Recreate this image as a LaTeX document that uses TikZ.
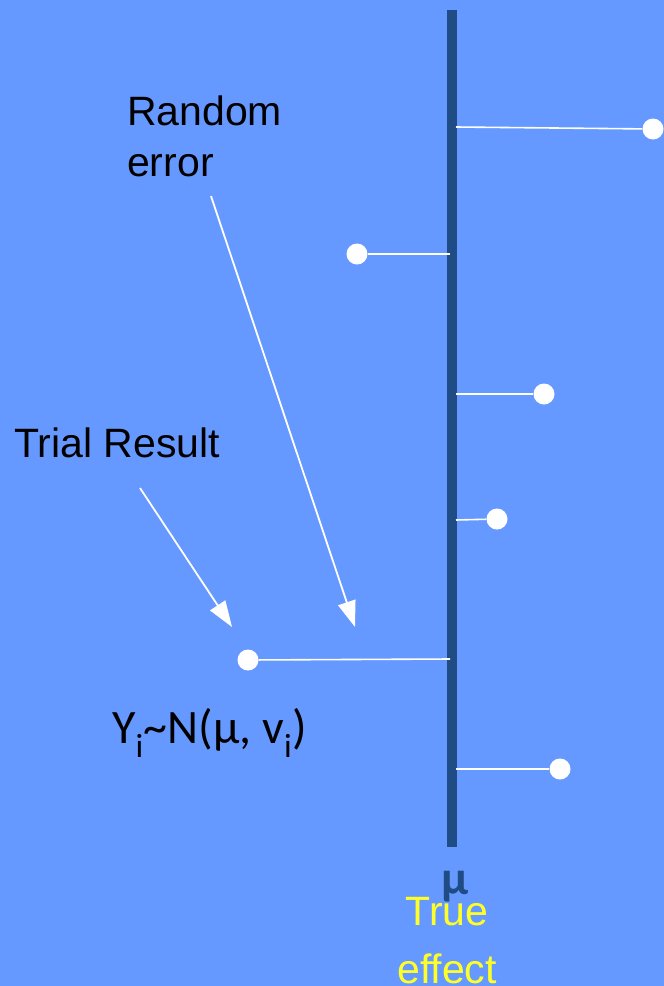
\documentclass[tikz,border=0pt]{standalone}
\usepackage{fontspec}
\setmainfont{Liberation Sans}
\newfontfamily\calib{Carlito}
\usetikzlibrary{arrows.meta}
\definecolor{bgblue}{RGB}{102,153,255}
\definecolor{barblue}{RGB}{31,76,132}
\definecolor{txtyellow}{RGB}{255,255,40}
\tikzset{
  dot/.style={circle,fill=white,draw=none,minimum size=21pt,inner sep=0pt},
  errline/.style={white,line width=1.6pt},
  pointer/.style={white,line width=1.8pt,-{Triangle[width=18pt,length=26pt,fill=white]}},
  lbl/.style={inner sep=0pt,font=\fontsize{41}{51}\selectfont,text=black,align=left}
}
\begin{document}
\begin{tikzpicture}[x=1pt,y=-1pt]
\useasboundingbox[fill=bgblue] (0,0) rectangle (664,986);
% true effect bar
\coordinate (top) at (452,10);
\coordinate (bot) at (452,847);
\draw[barblue,line width=10pt] (top) -- (bot);
% bar anchor points
\coordinate (b1) at (456,127);
\coordinate (b2) at (450,254);
\coordinate (b3) at (456,394);
\coordinate (b4) at (456,520);
\coordinate (b5) at (450,659);
\coordinate (b6) at (456,769);
% trial results
\node[dot] (d1) at (653,129) {};
\node[dot] (d2) at (357,254) {};
\node[dot] (d3) at (544,394) {};
\node[dot] (d4) at (497,519) {};
\node[dot] (d5) at (248,660) {};
\node[dot] (d6) at (560,769) {};
\foreach \i in {1,...,6} \draw[errline] (b\i) -- (d\i);
% labels
\node[lbl,anchor=north west] (re) at (127,96) {Random\\error};
\node[lbl,anchor=north west] (tr) at (14,428) {Trial Result};
\coordinate (reS) at (211,196);
\coordinate (reT) at (355,627);
\coordinate (trS) at (140,488);
\coordinate (trT) at (232,627);
\draw[pointer] (reS) -- (reT);
\draw[pointer] (trS) -- (trT);
% formula
\node[inner sep=0pt,anchor=base west,font=\calib\fontsize{48}{54}\selectfont] (f) at (112,743)
  {Y\textsubscript{i}{\char"7E}N(\textmu, v\textsubscript{i})};
% mu and true effect
\node[inner sep=0pt,anchor=base,text=txtyellow,font=\fontsize{41}{58}\selectfont,align=center] (te) at (447,983) {True\\effect};
\node[inner sep=0pt,anchor=base,text=barblue,font=\calib\bfseries\fontsize{48}{50}\selectfont] (mu) at (455,894) {\textmu};
\end{tikzpicture}
\end{document}
